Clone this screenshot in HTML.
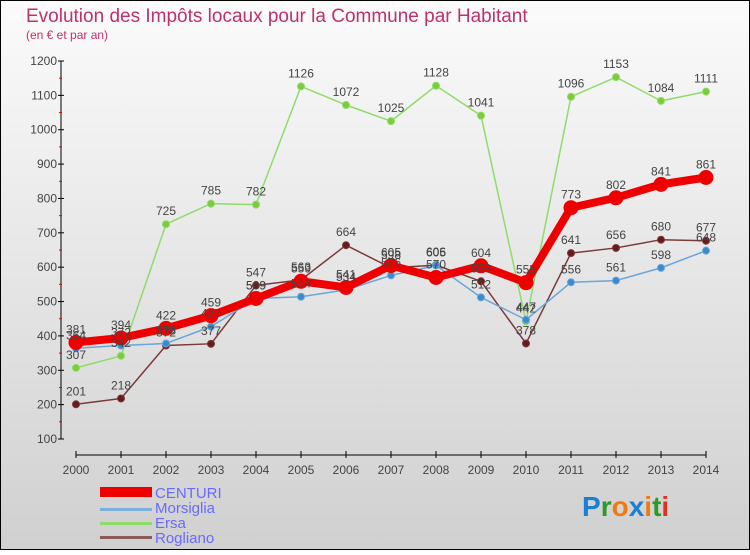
<!DOCTYPE html>
<html><head><meta charset="utf-8"><style>
body{margin:0;width:750px;height:550px;overflow:hidden;font-family:"Liberation Sans",sans-serif}
</style></head><body>
<svg width="750" height="550" xmlns="http://www.w3.org/2000/svg" id="svg">
<defs><linearGradient id="bg" x1="0" y1="0" x2="0" y2="1"><stop offset="0" stop-color="#fbfbfb"/><stop offset="1" stop-color="#d0d0d0"/></linearGradient></defs>
<rect x="0.5" y="0.5" width="749" height="549" fill="url(#bg)" stroke="#000"/>
<text x="26" y="22" font-size="19" fill="#c0306a">Evolution des Impôts locaux pour la Commune par Habitant</text>
<text x="26" y="39" font-size="12" fill="#c0306a">(en € et par an)</text>
<g id="axes"></g><g id="series"></g><g id="labels"></g>
<g font-size="15" fill="#6a6aff">
<rect x="100" y="487" width="52" height="10" fill="#e00"/><text x="155" y="498">CENTURI</text>
<rect x="100" y="508" width="52" height="3" fill="#7aaedb"/><text x="155" y="513">Morsiglia</text>
<rect x="100" y="522" width="52" height="3" fill="#8fdc6a"/><text x="155" y="528">Ersa</text>
<rect x="100" y="536" width="52" height="3" fill="#8b5a5a"/><text x="155" y="543">Rogliano</text>
</g>
<g font-size="28" font-weight="bold"><text x="582" y="516"><tspan fill="#1a7fd6">P</tspan><tspan fill="#2a9a2a">r</tspan><tspan fill="#f07a10">o</tspan><tspan fill="#1a7fd6">x</tspan><tspan fill="#f07a10">i</tspan><tspan fill="#2a9a2a">t</tspan><tspan fill="#e03020">i</tspan></text></g>
</svg>
<script>
const years=[2000,2001,2002,2003,2004,2005,2006,2007,2008,2009,2010,2011,2012,2013,2014];
const yTicks=[100,200,300,400,500,600,700,800,900,1000,1100,1200];
const centuri=[381,394,422,459,509,559,541,605,570,604,555,773,802,841,861];
const morsiglia=[364,372,378,427,509,514,534,576,605,512,447,556,561,598,648];
const ersa=[307,342,725,785,782,1126,1072,1025,1128,1041,442,1096,1153,1084,1111];
const rogliano=[201,218,372,377,547,563,664,598,606,559,378,641,656,680,677];
const NS="http://www.w3.org/2000/svg";
const X=i=>76+i*45, Y=v=>439-(v-100)*(378/1100);
function mk(t,a,p){const e=document.createElementNS(NS,t);for(const k in a)e.setAttribute(k,a[k]);p.appendChild(e);return e;}
const ax=document.getElementById('axes'),sg=document.getElementById('series'),lg=document.getElementById('labels');
let yl=mk('line',{x1:61,y1:61,x2:61,y2:439,stroke:'#000'},ax);

yTicks.forEach(v=>{mk('line',{x1:58,y1:Y(v),x2:64,y2:Y(v),stroke:'#000'},ax);
 if(v<1200)mk('line',{x1:59,y1:Y(v+50),x2:62,y2:Y(v+50),stroke:'#e00'},ax);
 const t=mk('text',{x:57,y:Y(v)+4,'font-size':12,fill:'#444','text-anchor':'end'},ax);t.textContent=v;
 });
let xl=mk('line',{x1:76,y1:455,x2:706,y2:455,stroke:'#000'},ax);

years.forEach((y,i)=>{mk('line',{x1:X(i),y1:451,x2:X(i),y2:458,stroke:'#000'},ax);
 const t=mk('text',{x:X(i),y:474,'font-size':12,fill:'#444','text-anchor':'middle'},ax);t.textContent=y;
 });
function series(name,d,col,w,r,dot){
 const g=mk('g',{},sg);
 mk('polyline',{points:d.map((v,i)=>X(i)+','+Y(v)).join(' '),fill:'none',stroke:col,'stroke-width':w,'stroke-linejoin':'round'},g);
 d.forEach((v,i)=>{const c=mk('circle',{cx:X(i),cy:Y(v),r:r,fill:dot,stroke:col,'stroke-width':1},g);
  
  const t=mk('text',{x:X(i),y:Y(v)-9,'font-size':12,fill:'#444','text-anchor':'middle'},lg);t.textContent=v;
  });
}
series('ersa',ersa,'#8fdc6a',1.5,3.5,'#7acc3a');
series('rogliano',rogliano,'#7a3a3a',1.5,3.5,'#6a1a1a');
series('morsiglia',morsiglia,'#6aa6d8',1.5,3.5,'#3a8ad0');
series('centuri',centuri,'#ee0000',8,7,'#ee0000');
</script>
</body></html>
